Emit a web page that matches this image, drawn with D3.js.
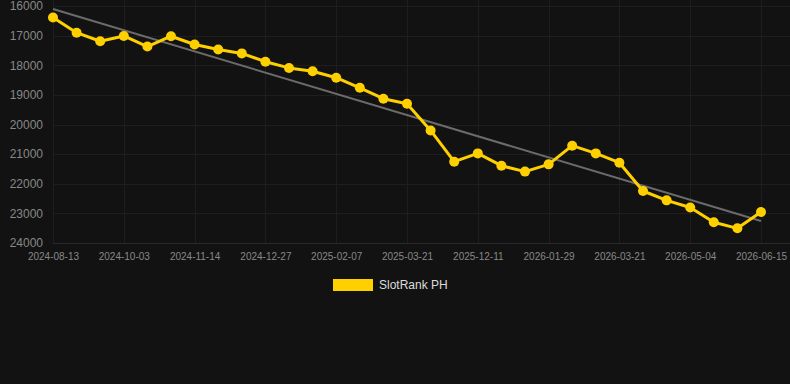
<!DOCTYPE html>
<html>
<head>
<meta charset="utf-8">
<script src="https://cdn.jsdelivr.net/npm/d3@7"></script>
<style>
  html, body { margin: 0; padding: 0; background: #121212; }
  svg { display: block; }
</style>
</head>
<body>
<svg id="chart" width="790" height="384"></svg>
<script>
const dates = [
  "2024-08-13","2024-08-30","2024-09-16","2024-10-03","2024-10-17","2024-10-31",
  "2024-11-14","2024-11-28","2024-12-12","2024-12-27","2025-01-10","2025-01-24",
  "2025-02-07","2025-02-21","2025-03-07","2025-03-21","2025-06-01","2025-09-01",
  "2025-12-11","2025-12-27","2026-01-13","2026-01-29","2026-02-15","2026-03-04",
  "2026-03-21","2026-04-04","2026-04-19","2026-05-04","2026-05-18","2026-06-01",
  "2026-06-15"
];
const rankValues = [
  16390, 16900, 17190, 17010, 17370, 17020,
  17300, 17470, 17600, 17880, 18090, 18205,
  18420, 18760, 19130, 19300, 20200, 21255,
  20975, 21390, 21590, 21345, 20715, 20975,
  21290, 22245, 22560, 22800, 23300, 23505,
  22955
];
const trendValues = [16100, 23260];
const yTicks = [16000, 17000, 18000, 19000, 20000, 21000, 22000, 23000, 24000];
const seriesName = "SlotRank PH";

(function () {
const svg = d3.select("#chart");
const W = 790, H = 384;
const pLeft = 53, pRight = 761, pTop = 6, pBottom = 243;
const gridRight = 790;

const x = d3.scalePoint().domain(d3.range(dates.length)).range([pLeft, pRight]);
const y = d3.scaleLinear().domain([16000, 24000]).range([pTop, pBottom]);

svg.append("rect").attr("width", W).attr("height", H).attr("fill", "#121212");

const gridColor = "#1e1e1e";
const labeled = d3.range(0, dates.length, 3);

// horizontal grid
svg.append("g").selectAll("line").data(yTicks).join("line")
  .attr("x1", pLeft).attr("x2", gridRight)
  .attr("y1", d => Math.round(y(d)) + 0.5).attr("y2", d => Math.round(y(d)) + 0.5)
  .attr("stroke", d => d === 24000 ? "#2a2a2a" : gridColor).attr("stroke-width", 1);

// vertical grid
svg.append("g").selectAll("line").data(labeled).join("line")
  .attr("x1", d => Math.round(x(d)) + 0.5).attr("x2", d => Math.round(x(d)) + 0.5)
  .attr("y1", 0).attr("y2", pBottom)
  .attr("stroke", gridColor).attr("stroke-width", 1);

const yAxis = d3.axisLeft(y).tickValues(yTicks).tickSize(0).tickPadding(10).tickFormat(d3.format("d"));
const gy = svg.append("g").attr("transform", `translate(${pLeft},0)`).call(yAxis);
gy.select(".domain").remove();
gy.selectAll("text").attr("fill", "#888888").style("font", "12px 'Liberation Sans', Arial, sans-serif");

const xAxis = d3.axisBottom(x).tickValues(labeled).tickSize(0).tickPadding(10).tickFormat(i => dates[i]);
const gx = svg.append("g").attr("transform", `translate(0,${pBottom})`).call(xAxis);
gx.select(".domain").remove();
gx.selectAll("text").attr("fill", "#888888").style("font", "10px 'Liberation Sans', Arial, sans-serif");

// trend line
svg.append("line")
  .attr("x1", x(0)).attr("y1", y(trendValues[0]))
  .attr("x2", x(dates.length - 1)).attr("y2", y(trendValues[1]))
  .attr("stroke", "#6b6b6b").attr("stroke-width", 2);

// series line
const color = "#FFD000";
const line = d3.line().x((d, i) => x(i)).y(d => y(d));
svg.append("path").datum(rankValues)
  .attr("d", line).attr("fill", "none")
  .attr("stroke", color).attr("stroke-width", 3).attr("stroke-linejoin", "round");

svg.append("g").selectAll("circle").data(rankValues).join("circle")
  .attr("cx", (d, i) => x(i)).attr("cy", d => y(d)).attr("r", 5)
  .attr("fill", color);

// legend
const lg = svg.append("g");
lg.append("rect").attr("x", 333).attr("y", 279).attr("width", 40).attr("height", 12).attr("fill", color);
lg.append("text").attr("x", 379).attr("y", 285).attr("dy", "0.35em")
  .attr("fill", "#dcdcdc").style("font", "12px 'Liberation Sans', Arial, sans-serif")
  .text(seriesName);
})();
</script>
</body>
</html>
